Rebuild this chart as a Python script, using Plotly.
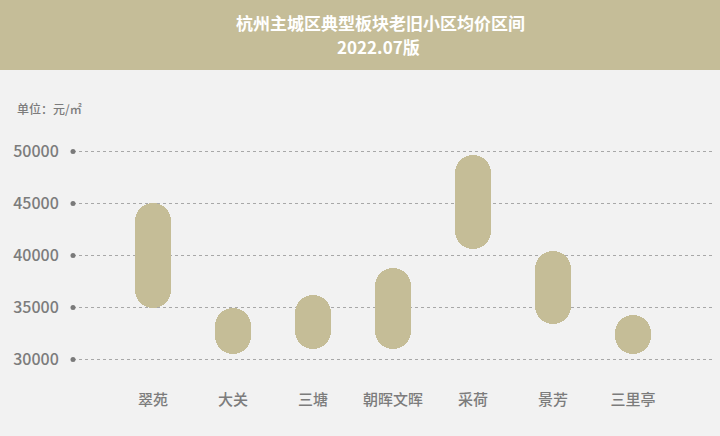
import plotly.graph_objects as go

categories = ["翠苑", "大关", "三塘", "朝晖文晖", "采荷", "景芳", "三里亭"]
price_low = [35000, 30500, 31000, 31000, 40600, 33400, 30500]
price_high = [45000, 35000, 36200, 38800, 49700, 40400, 34300]
tick_values = [30000, 35000, 40000, 45000, 50000]
tick_labels = ["30000", "35000", "40000", "45000", "50000"]

title_line1 = "杭州主城区典型板块老旧小区均价区间"
title_line2 = "2022.07版"
unit_label = "单位：元/㎡"

BG = "#f2f2f2"
BAND = "#c5bd98"
CAPSULE = "#c5bd97"
GRAY = "#7c7c7c"
FONT = "Noto Sans CJK SC"

W, H = 720, 436
ML, MR, MT, MB = 73, 7, 141, 66
plot_w = W - ML - MR
plot_h = H - MT - MB


def px_x(px):
    return (px - ML) / plot_w


def px_y(py):
    return (H - MB - py) / plot_h


x_idx = list(range(len(categories)))

fig = go.Figure()

fig.add_trace(go.Bar(
    x=x_idx,
    y=[h - l for l, h in zip(price_low, price_high)],
    base=price_low,
    width=0.46,
    marker=dict(color=CAPSULE, cornerradius="50%", line=dict(width=0)),
    hoverinfo="skip",
    showlegend=False,
))

# dots at the left end of each gridline
fig.add_trace(go.Scatter(
    x=[-1.0] * len(tick_values),
    y=tick_values,
    mode="markers",
    marker=dict(color="#7a7a7a", size=5),
    cliponaxis=False,
    hoverinfo="skip",
    showlegend=False,
))

fig.update_layout(
    width=W,
    height=H,
    paper_bgcolor=BG,
    plot_bgcolor=BG,
    margin=dict(l=ML, r=MR, t=MT, b=MB),
    font=dict(family=FONT, color=GRAY),
    bargap=0,
    xaxis=dict(
        range=[-1.0, 7.0],
        tickmode="array",
        tickvals=x_idx,
        ticktext=categories,
        showgrid=False,
        zeroline=False,
        showline=False,
        ticks="outside",
        ticklen=16,
        tickcolor="rgba(0,0,0,0)",
        tickfont=dict(size=15, color=GRAY, family=FONT, weight=500),
        fixedrange=True,
    ),
    yaxis=dict(
        range=[29000, 51000],
        tickmode="array",
        tickvals=tick_values,
        ticktext=tick_labels,
        showgrid=True,
        gridcolor="#a8a8a8",
        gridwidth=1,
        griddash="dot",
        zeroline=False,
        showline=False,
        ticks="outside",
        ticklen=10,
        tickcolor="rgba(0,0,0,0)",
        tickfont=dict(size=16, color=GRAY, family=FONT, weight=500),
        fixedrange=True,
    ),
    shapes=[
        dict(type="rect", xref="paper", yref="paper", layer="below",
             x0=px_x(-5), x1=px_x(W + 5), y0=px_y(70), y1=px_y(-5),
             fillcolor=BAND, line=dict(width=0)),
    ],
)

fig.add_annotation(
    text=title_line1, xref="paper", yref="paper",
    x=px_x(380), y=px_y(22),
    xanchor="center", yanchor="middle", showarrow=False,
    font=dict(size=17, color="white", family=FONT, weight="bold"),
)
fig.add_annotation(
    text=title_line2, xref="paper", yref="paper",
    x=px_x(378), y=px_y(46),
    xanchor="center", yanchor="middle", showarrow=False,
    font=dict(size=17, color="white", family=FONT, weight="bold"),
)
fig.add_annotation(
    text=unit_label, xref="paper", yref="paper",
    x=px_x(15), y=px_y(109),
    xanchor="left", yanchor="middle", showarrow=False,
    font=dict(size=12, color=GRAY, family=FONT, weight=500),
)

fig.write_html(
    "out.html",
    config={"displayModeBar": False},
    post_script="document.body.style.margin='0';document.body.style.background='" + BG + "';",
)
